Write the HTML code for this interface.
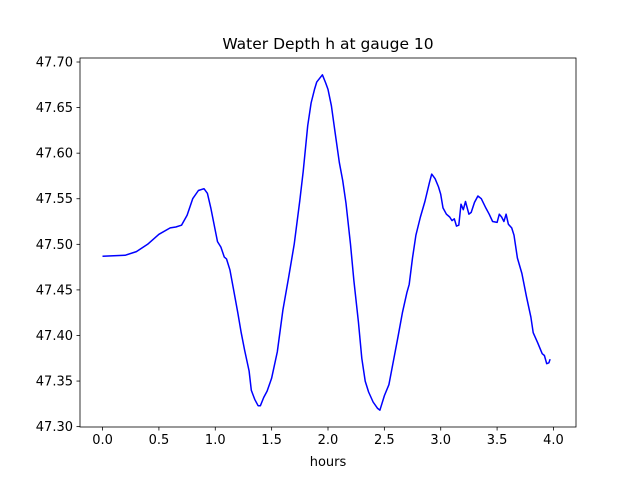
<!DOCTYPE html>
<html><head><meta charset="utf-8"><style>
body{margin:0;background:#fff;}
svg text{font-family:"DejaVu Sans","Liberation Sans",sans-serif;font-size:13px;fill:#000;}
</style></head><body>
<svg id="chart" width="640" height="480"></svg>
<script>
const xs=[0,0.2,0.3,0.4,0.5,0.6,0.65,0.7,0.75,0.8,0.85,0.9,0.93,0.96,1.0,1.02,1.05,1.08,1.1,1.13,1.16,1.2,1.23,1.26,1.3,1.32,1.35,1.38,1.4,1.43,1.46,1.5,1.55,1.6,1.65,1.7,1.75,1.78,1.82,1.85,1.88,1.9,1.95,1.98,2.0,2.03,2.06,2.1,2.13,2.16,2.2,2.23,2.27,2.3,2.33,2.36,2.4,2.44,2.46,2.5,2.54,2.58,2.62,2.66,2.7,2.72,2.75,2.78,2.82,2.86,2.9,2.92,2.95,2.98,3.0,3.02,3.05,3.08,3.1,3.12,3.14,3.16,3.18,3.2,3.22,3.25,3.27,3.3,3.33,3.36,3.4,3.43,3.46,3.5,3.52,3.54,3.56,3.58,3.6,3.63,3.65,3.68,3.72,3.76,3.8,3.82,3.86,3.9,3.92,3.94,3.96,3.97];
const depth=[47.487,47.488,47.492,47.500,47.511,47.518,47.519,47.521,47.532,47.550,47.559,47.561,47.556,47.540,47.515,47.503,47.497,47.486,47.484,47.472,47.452,47.425,47.403,47.384,47.361,47.340,47.330,47.323,47.323,47.332,47.339,47.353,47.382,47.428,47.463,47.500,47.548,47.580,47.630,47.655,47.670,47.678,47.686,47.677,47.670,47.652,47.625,47.590,47.570,47.545,47.500,47.460,47.415,47.375,47.350,47.338,47.327,47.320,47.318,47.334,47.346,47.372,47.398,47.425,47.447,47.456,47.485,47.510,47.530,47.547,47.568,47.577,47.572,47.563,47.555,47.540,47.533,47.530,47.526,47.528,47.520,47.521,47.544,47.538,47.547,47.533,47.535,47.546,47.553,47.550,47.540,47.533,47.525,47.524,47.533,47.530,47.525,47.533,47.522,47.518,47.510,47.485,47.468,47.443,47.420,47.403,47.392,47.380,47.378,47.369,47.370,47.374];
const xTicks=[0,0.5,1.0,1.5,2.0,2.5,3.0,3.5,4.0];
const yTicks=[47.30,47.35,47.40,47.45,47.50,47.55,47.60,47.65,47.70];
const L=80,R=576,T=58,B=427;
const xmin=-0.2,xmax=4.2,ymin=47.2996,ymax=47.7044;
const X=v=>L+(v-xmin)/(xmax-xmin)*(R-L);
const Y=v=>B-(v-ymin)/(ymax-ymin)*(B-T);
const svg=document.getElementById('chart');const NS='http://www.w3.org/2000/svg';
function mk(t,a,p){const e=document.createElementNS(NS,t);for(const k in a)e.setAttribute(k,a[k]);(p||svg).appendChild(e);return e;}
const d=xs.map((x,i)=>(i?'L':'M')+X(x).toFixed(1)+','+Y(depth[i]).toFixed(1)).join('');
const line=mk('path',{d:d,fill:'none',stroke:'#0000ff','stroke-width':1.5,'stroke-linejoin':'round'});


const frame=mk('rect',{x:L,y:T,width:R-L,height:B-T,fill:'none',stroke:'#000','stroke-width':0.8});


xTicks.forEach(v=>{const x=X(v);mk('line',{x1:x,x2:x,y1:B,y2:B+3.5,stroke:'#000','stroke-width':0.8});
const t=mk('text',{x:x,y:B+17,'text-anchor':'middle'});t.textContent=v.toFixed(1);

});
yTicks.forEach(v=>{const y=Y(v);mk('line',{x1:L-3.5,x2:L,y1:y,y2:y,stroke:'#000','stroke-width':0.8});
const t=mk('text',{x:L-7,y:y+4.5,'text-anchor':'end'});t.textContent=v.toFixed(2);

});
const xl=mk('text',{x:(L+R)/2,y:466,'text-anchor':'middle'});xl.textContent='hours';


const ti=mk('text',{x:(L+R)/2,y:49,'text-anchor':'middle',style:'font-size:15.5px'});ti.textContent='Water Depth h at gauge 10';


</script></body></html>
